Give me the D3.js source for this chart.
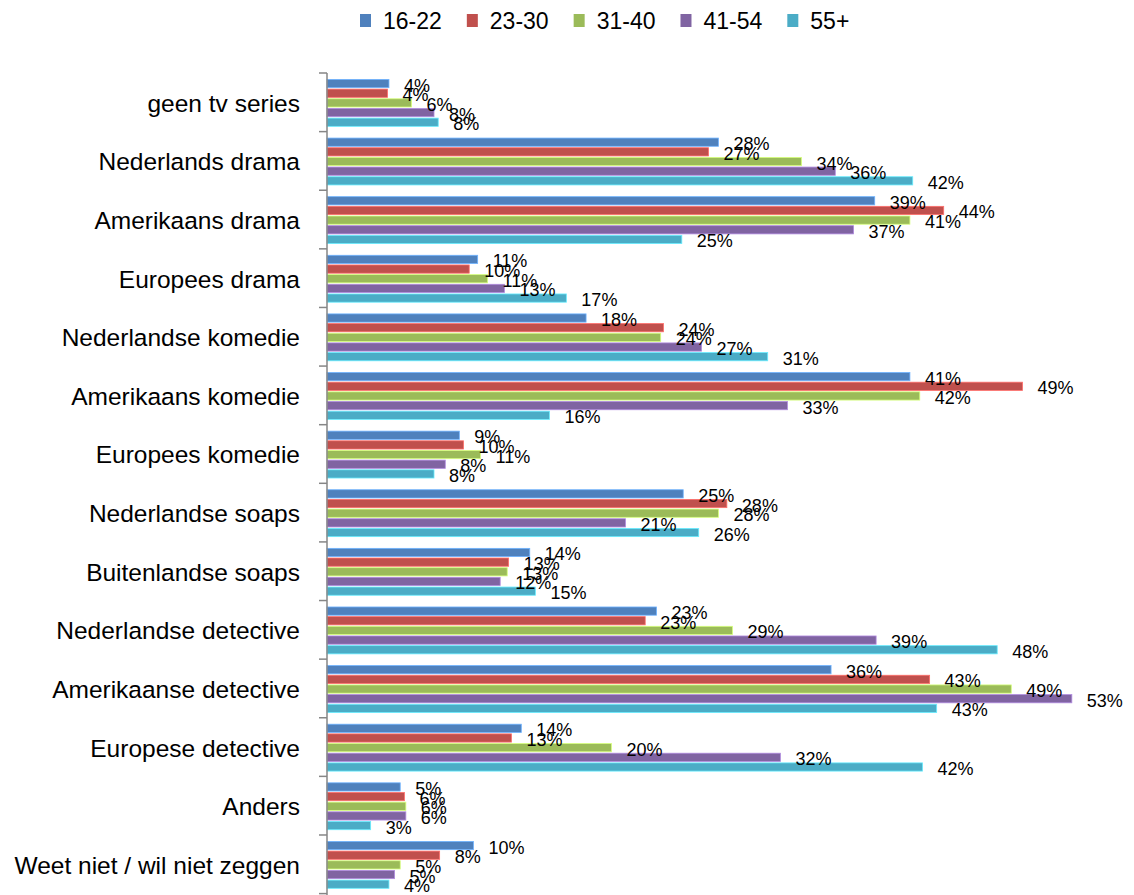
<!DOCTYPE html>
<html>
<head>
<meta charset="utf-8">
<script src="https://cdn.jsdelivr.net/npm/d3@7/dist/d3.min.js"></script>
<style>
  html, body { margin: 0; padding: 0; background: #fff; }
  svg { display: block; font-family: "Liberation Sans", Arial, sans-serif; }
</style>
</head>
<body>
<svg id="chart" width="1134" height="895"></svg>
<script>
const categories = [
  "geen tv series", "Nederlands drama", "Amerikaans drama", "Europees drama",
  "Nederlandse komedie", "Amerikaans komedie", "Europees komedie", "Nederlandse soaps",
  "Buitenlandse soaps", "Nederlandse detective", "Amerikaanse detective", "Europese detective",
  "Anders", "Weet niet / wil niet zeggen"
];
const seriesNames = ["16-22", "23-30", "31-40", "41-54", "55+"];
const colors = ["#4F81BD", "#C0504D", "#9BBB59", "#8064A2", "#4BACC6"];

const v16_22 = [4.4, 27.8, 38.9, 10.7, 18.4, 41.4, 9.4, 25.3, 14.4, 23.4, 35.8, 13.8, 5.2, 10.4];
const v23_30 = [4.3, 27.1, 43.8, 10.1, 23.9, 49.4, 9.7, 28.4, 12.9, 22.6, 42.8, 13.1, 5.5, 8.0];
const v31_40 = [6.0, 33.7, 41.4, 11.4, 23.7, 42.1, 10.9, 27.8, 12.8, 28.8, 48.6, 20.2, 5.6, 5.2];
const v41_54 = [7.6, 36.1, 37.4, 12.6, 26.6, 32.7, 8.4, 21.2, 12.3, 39.0, 52.9, 32.2, 5.6, 4.8];
const v55plus = [7.9, 41.6, 25.2, 17.0, 31.3, 15.8, 7.6, 26.4, 14.8, 47.6, 43.3, 42.3, 3.1, 4.4];
const seriesValues = [v16_22, v23_30, v31_40, v41_54, v55plus];

const W = 1134, H = 895;
const svg = d3.select("#chart");

const x = d3.scaleLinear().domain([0, 55]).range([327, 327 + 55 * 14.08]);
const y = d3.scaleBand().domain(categories).range([73, 893.6]).paddingInner(0).paddingOuter(0);
const bw = y.bandwidth();
const yInner = d3.scaleBand().domain(seriesNames).range([bw * 0.11, bw * 0.91]).paddingInner(0.15).paddingOuter(0);

// bars
const rows = [];
categories.forEach((c, i) => {
  seriesNames.forEach((s, j) => {
    rows.push({ cat: c, series: s, j: j, value: seriesValues[j][i] });
  });
});

const g = svg.append("g");
g.selectAll("rect.bar").data(rows).enter().append("rect")
  .attr("class", "bar")
  .attr("x", x(0))
  .attr("y", d => y(d.cat) + yInner(d.series))
  .attr("width", d => x(d.value) - x(0))
  .attr("height", yInner.bandwidth())
  .attr("fill", d => colors[d.j])
  .attr("stroke", d => d3.color(colors[d.j]).brighter(0.9))
  .attr("stroke-width", 0.8);

// value labels
const labelG = svg.append("g").attr("font-size", 18).attr("fill", "#000");
labelG.selectAll("text").data(rows).enter().append("text")
  .attr("x", d => x(d.value) + 15)
  .attr("y", d => y(d.cat) + yInner(d.series) + yInner.bandwidth() / 2 + 2)
  .attr("dominant-baseline", "central")
  .text(d => Math.round(d.value) + "%")
  .each(function () {
    const t = d3.select(this);
    const w = this.getComputedTextLength();
    const xx = +t.attr("x");
    if (xx + w > W - 3) t.attr("x", W - 3 - w);
  });

// axis line and ticks
const axisG = svg.append("g");
axisG.append("line")
  .attr("x1", x(0)).attr("x2", x(0))
  .attr("y1", y.range()[0]).attr("y2", H)
  .attr("stroke", "#868686").attr("stroke-width", 1.5);
const boundaries = categories.map(c => y(c)).concat([y.range()[1]]);
axisG.selectAll("line.tick").data(boundaries).enter().append("line")
  .attr("class", "tick")
  .attr("x1", x(0) - 8).attr("x2", x(0))
  .attr("y1", d => d).attr("y2", d => d)
  .attr("stroke", "#868686").attr("stroke-width", 1.5);

// category labels
svg.append("g").attr("font-size", 24.5).attr("fill", "#000")
  .selectAll("text").data(categories).enter().append("text")
  .attr("x", 300)
  .attr("y", d => y(d) + bw / 2 + 1)
  .attr("text-anchor", "end")
  .attr("dominant-baseline", "central")
  .text(d => d);

// legend
const legend = svg.append("g").attr("font-size", 23);
let lx = 360;
seriesNames.forEach((s, j) => {
  legend.append("rect").attr("x", lx).attr("y", 14).attr("width", 11).attr("height", 13).attr("fill", colors[j]);
  const t = legend.append("text").attr("x", lx + 23).attr("y", 21)
    .attr("dominant-baseline", "central").attr("fill", "#000").text(s);
  lx += 23 + t.node().getComputedTextLength() + 25;
});
</script>
</body>
</html>
